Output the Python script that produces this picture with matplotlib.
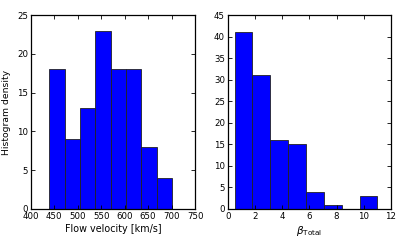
import numpy as np
import matplotlib
matplotlib.use("Agg")
import matplotlib.pyplot as plt

# Data
v_edges = [440.0, 472.6, 505.3, 537.9, 570.5, 603.1, 635.8, 668.4, 701.0]
v_counts = [18, 9, 13, 23, 18, 18, 8, 4]
b_edges = [0.5, 1.81, 3.13, 4.44, 5.75, 7.06, 8.38, 9.69, 11.0]
b_counts = [41, 31, 16, 15, 4, 1, 0, 3]

fig = plt.figure(figsize=(4.15, 2.41), dpi=100)
ax1 = fig.add_axes([0.074, 0.133, 0.396, 0.804])
ax2 = fig.add_axes([0.549, 0.133, 0.393, 0.804])

def draw(ax, edges, counts):
    edges = np.asarray(edges)
    ax.bar(edges[:-1], counts, width=np.diff(edges), align='edge',
           color='#0000ff', edgecolor='#222222', linewidth=0.6)
    ax.tick_params(direction='in', top=True, right=True, length=3,
                   width=0.6, labelsize=6.2, pad=2)
    for s in ax.spines.values():
        s.set_linewidth(0.9)

draw(ax1, v_edges, v_counts)
ax1.set_xlim(400, 750)
ax1.set_ylim(0, 25)
ax1.set_xticks(np.arange(400, 751, 50))
ax1.set_yticks(np.arange(0, 26, 5))
ax1.set_xlabel('Flow velocity [km/s]', fontsize=6.9, labelpad=2)
ax1.set_ylabel('Histogram density', fontsize=6.7, labelpad=4)

draw(ax2, b_edges, b_counts)
ax2.set_xlim(0, 12)
ax2.set_ylim(0, 45)
ax2.set_xticks(np.arange(0, 13, 2))
ax2.set_yticks(np.arange(0, 46, 5))
ax2.set_xlabel(r'$\beta_{\mathrm{Total}}$', fontsize=7.5, labelpad=2)

fig.savefig('out.png', dpi=100)
